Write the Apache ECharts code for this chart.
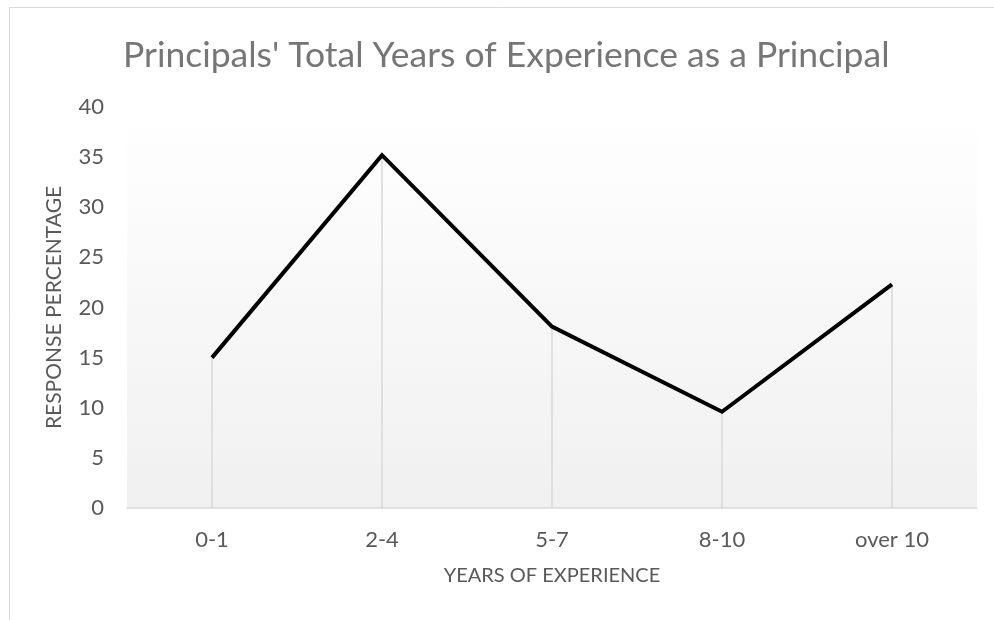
<!DOCTYPE html>
<html>
<head>
<meta charset="utf-8">
<script src="https://cdn.jsdelivr.net/npm/echarts@6/dist/echarts.min.js"></script>
<style>
  html, body { margin: 0; padding: 0; background: #fff; }
  #chart { width: 994px; height: 620px; }
</style>
</head>
<body>
<div id="chart"></div>
<script>
// data
const categories = ['0-1', '2-4', '5-7', '8-10', 'over 10'];
const responsePct = [15.0, 35.2, 18.1, 9.6, 22.3];
const yTicks = { min: 0, max: 40, interval: 5 };

const font = 'Lato, "Open Sans", sans-serif';
const chart = echarts.init(document.getElementById('chart'));

chart.setOption({
  backgroundColor: '#fff',
  animation: false,
  title: {
    text: "Principals' Total Years of Experience as a Principal",
    left: 118,
    top: 33,
    textStyle: { fontFamily: font, fontSize: 35.5, fontWeight: 'normal', color: '#767676' }
  },
  graphic: [{
    type: 'rect',
    shape: { x: 9.5, y: 7.5, width: 1000, height: 700 },
    style: { fill: 'none', stroke: '#d9d9d9', lineWidth: 1 },
    silent: true
  }],
  grid: {
    left: 127, right: 17, top: 107, bottom: 112,
    show: true,
    borderWidth: 0,
    backgroundColor: new echarts.graphic.LinearGradient(0, 0, 0, 1, [
      { offset: 0, color: '#ffffff' },
      { offset: 1, color: '#f0f0f0' }
    ])
  },
  xAxis: {
    type: 'category',
    data: categories,
    boundaryGap: true,
    name: 'YEARS OF EXPERIENCE',
    nameLocation: 'middle',
    nameGap: 58,
    nameTextStyle: { fontFamily: font, fontSize: 20, color: '#595959' },
    axisLine: { lineStyle: { color: '#d9d9d9', width: 1.5 } },
    axisTick: { show: false },
    axisLabel: { fontFamily: font, fontSize: 22, color: '#595959', margin: 21 },
    splitLine: { show: false }
  },
  yAxis: {
    type: 'value',
    min: yTicks.min,
    max: yTicks.max,
    interval: yTicks.interval,
    name: 'RESPONSE PERCENTAGE',
    nameLocation: 'middle',
    nameGap: 62,
    nameTextStyle: { fontFamily: font, fontSize: 21, color: '#595959' },
    axisLine: { show: false },
    axisTick: { show: false },
    axisLabel: { fontFamily: font, fontSize: 22, color: '#595959', margin: 23 },
    splitLine: { show: false }
  },
  series: [
    {
      // drop lines from each point down to the axis
      type: 'bar',
      data: responsePct,
      barWidth: 1.5,
      itemStyle: { color: '#d9d9d9' },
      silent: true,
      z: 1
    },
    {
      type: 'line',
      data: responsePct,
      showSymbol: false,
      lineStyle: { color: '#000', width: 4, join: 'miter' },
      z: 3
    }
  ]
});
</script>
</body>
</html>
